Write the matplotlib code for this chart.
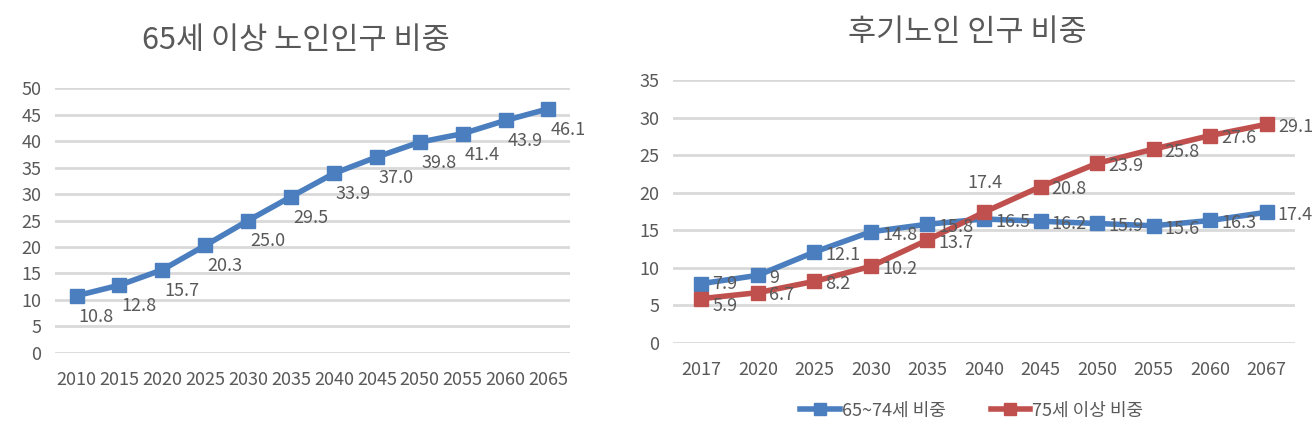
import matplotlib.pyplot as plt
from matplotlib.lines import Line2D

plt.rcParams['font.family'] = ['Noto Sans CJK KR', 'DejaVu Sans']

# 왼쪽 차트 데이터
years_left = ["2010", "2015", "2020", "2025", "2030", "2035", "2040", "2045", "2050", "2055", "2060", "2065"]
elderly_share = [10.8, 12.8, 15.7, 20.3, 25.0, 29.5, 33.9, 37.0, 39.8, 41.4, 43.9, 46.1]

# 오른쪽 차트 데이터
years_right = ["2017", "2020", "2025", "2030", "2035", "2040", "2045", "2050", "2055", "2060", "2067"]
share_65_74 = [7.9, 9, 12.1, 14.8, 15.8, 16.5, 16.2, 15.9, 15.6, 16.3, 17.4]
share_75 = [5.9, 6.7, 8.2, 10.2, 13.7, 17.4, 20.8, 23.9, 25.8, 27.6, 29.1]

blue = '#4a7ebf'
red = '#c0504d'
grid_c = '#d9d9d9'
text_c = '#595959'

fig = plt.figure(figsize=(13.13, 4.32), dpi=100)


def style_axes(ax, top, step):
    for s in ax.spines.values():
        s.set_visible(False)
    ax.set_ylim(0, top)
    ax.set_yticks(range(0, top + 1, step))
    ax.grid(axis='y', color=grid_c, linewidth=2)
    ax.set_axisbelow(True)
    ax.tick_params(length=0, labelsize=13, colors=text_c)
    ax.tick_params(axis='x', pad=13)
    ax.tick_params(axis='y', pad=10)


# 왼쪽: 65세 이상 노인인구 비중
ax1 = fig.add_axes([0.042, 0.183, 0.392, 0.613])
x1 = range(len(years_left))
ax1.plot(x1, elderly_share, color=blue, linewidth=4, marker='s', markersize=10)
ax1.set_xlim(-0.5, len(years_left) - 0.5)
ax1.set_xticks(list(x1))
ax1.set_xticklabels(years_left)
style_axes(ax1, 50, 5)
for i, v in enumerate(elderly_share):
    ax1.annotate(f"{v:.1f}", (i, v), textcoords="offset points", xytext=(14, -15),
                 ha='center', va='center', fontsize=13, color=text_c)
fig.text(0.225, 0.907, "65세 이상 노인인구 비중", ha='center', va='center',
         fontsize=22, color=text_c)

# 오른쪽: 후기노인 인구 비중
ax2 = fig.add_axes([0.5126, 0.206, 0.4737, 0.609])
x2 = range(len(years_right))
ax2.plot(x2, share_65_74, color=blue, linewidth=4, marker='s', markersize=10)
ax2.plot(x2, share_75, color=red, linewidth=4, marker='s', markersize=10)
ax2.set_xlim(-0.5, len(years_right) - 0.5)
ax2.set_xticks(list(x2))
ax2.set_xticklabels(years_right)
style_axes(ax2, 35, 5)
for i, v in enumerate(share_65_74):
    off = (8, 0) if i == 0 else (8, -2)
    ax2.annotate(f"{v:g}", (i, v), textcoords="offset points", xytext=off,
                 ha='left', va='center', fontsize=13, color=text_c)
for i, v in enumerate(share_75):
    if i == 5:
        off = (-12, 21)
    elif i == 0:
        off = (8, -5)
    else:
        off = (8, -2)
    ax2.annotate(f"{v:g}", (i, v), textcoords="offset points", xytext=off,
                 ha='left', va='center', fontsize=13, color=text_c)
fig.text(0.737, 0.925, "후기노인 인구 비중", ha='center', va='center',
         fontsize=22, color=text_c)

handles = [Line2D([], [], color=blue, linewidth=4, marker='s', markersize=9),
           Line2D([], [], color=red, linewidth=4, marker='s', markersize=9)]
fig.legend(handles, ["65~74세 비중", "75세 이상 비중"], loc='center',
           bbox_to_anchor=(0.74, 0.05), ncol=2, frameon=False, fontsize=13,
           handlelength=2.2, handletextpad=0.1, columnspacing=2.5,
           labelcolor=text_c)

fig.savefig("out.png", dpi=100)
